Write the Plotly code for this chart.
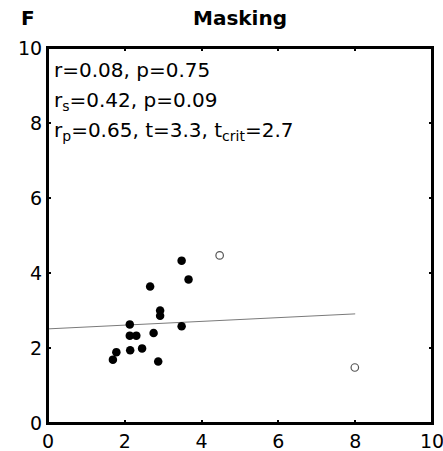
import plotly.graph_objects as go

# Data
x_filled = [1.69, 1.78, 2.13, 2.13, 2.30, 2.14, 2.45, 2.66, 2.75, 2.92, 2.92, 2.87, 3.48, 3.48, 3.66]
y_filled = [1.69, 1.89, 2.63, 2.33, 2.33, 1.94, 1.99, 3.64, 2.40, 3.00, 2.86, 1.64, 4.33, 2.58, 3.83]
x_open = [4.47, 7.99]
y_open = [4.47, 1.48]
fit_x = [0, 8]
fit_y = [2.51, 2.91]
ticks = [0, 2, 4, 6, 8, 10]
stats_lines = [
    "r=0.08, p=0.75",
    "r<sub>s</sub>=0.42, p=0.09",
    "r<sub>p</sub>=0.65, t=3.3, t<sub>crit</sub>=2.7",
]

FONT = "DejaVu Sans, Arial, sans-serif"
W, H = 443, 451
ML, MR, MT, MB = 48, 11, 48, 28
PH = H - MT - MB


def py(pix):
    """pixel y (from top of page) -> paper y"""
    return (H - MB - pix) / PH


def px(pix):
    return (pix - ML) / (W - ML - MR)


fig = go.Figure()
fig.add_trace(go.Scatter(x=fit_x, y=fit_y, mode="lines",
                         line=dict(color="#7a7a7a", width=1), showlegend=False))
fig.add_trace(go.Scatter(x=x_filled, y=y_filled, mode="markers",
                         marker=dict(color="black", size=8.5, line=dict(width=0)),
                         showlegend=False))
fig.add_trace(go.Scatter(x=x_open, y=y_open, mode="markers",
                         marker=dict(color="white", size=7.5,
                                     line=dict(color="#555555", width=1.2)),
                         showlegend=False))

axis_common = dict(range=[0, 10], tickvals=ticks, ticks="inside", ticklen=3,
                   tickwidth=2, tickcolor="black", showline=True, linecolor="black",
                   linewidth=2, mirror="ticks", showgrid=False, zeroline=False,
                   automargin=False, ticklabeloverflow="allow",
                   tickfont=dict(family=FONT, size=19, color="black"))
fig.update_xaxes(**axis_common)
fig.update_yaxes(**axis_common)

# frame around the plot area
fig.add_shape(type="rect", xref="paper", yref="paper", x0=0, x1=1, y0=0, y1=1,
              line=dict(color="black", width=2), layer="above")

line_tops = [56, 86, 116]
for top, line in zip(line_tops, stats_lines):
    fig.add_annotation(x=px(52), y=py(top), xref="paper", yref="paper",
                       text=line, showarrow=False, xanchor="left", yanchor="top",
                       font=dict(family=FONT, size=20, color="black"))

fig.add_annotation(x=px(240), y=py(18), xref="paper", yref="paper",
                   text="<b>Masking</b>", showarrow=False, xanchor="center", yanchor="middle",
                   font=dict(family=FONT, size=20, color="black"))
fig.add_annotation(x=px(28), y=py(18), xref="paper", yref="paper", text="<b>F</b>",
                   showarrow=False, xanchor="center", yanchor="middle",
                   font=dict(family=FONT, size=20, color="black"))

fig.update_layout(width=W, height=H, margin=dict(l=ML, r=MR, t=MT, b=MB),
                  plot_bgcolor="white", paper_bgcolor="white")

fig.write_html("out.html")
